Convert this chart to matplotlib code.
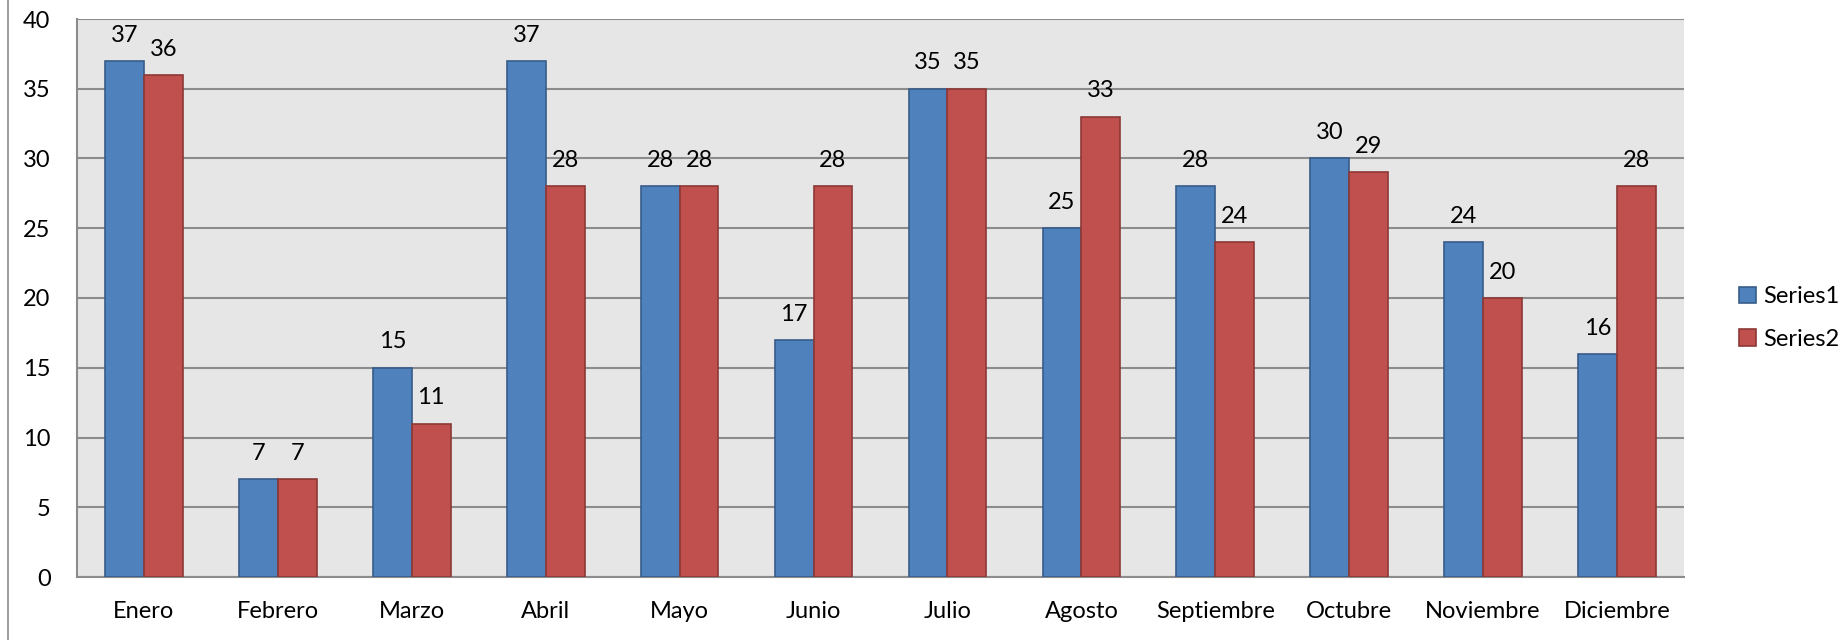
import numpy as np
import matplotlib
matplotlib.use("Agg")
import matplotlib.pyplot as plt

# Datos
meses = ["Enero", "Febrero", "Marzo", "Abril", "Mayo", "Junio", "Julio",
         "Agosto", "Septiembre", "Octubre", "Noviembre", "Diciembre"]
series1 = [37, 7, 15, 37, 28, 17, 35, 25, 28, 30, 24, 16]
series2 = [36, 7, 11, 28, 28, 28, 35, 33, 24, 29, 20, 28]

plt.rcParams["font.family"] = ["Lato", "DejaVu Sans"]

W, H, DPI = 1847, 640, 100
fig = plt.figure(figsize=(W / DPI, H / DPI), dpi=DPI, facecolor="white")
# área de trazado en píxeles: x 77..1684, y 19..577
ax = fig.add_axes([77 / W, 1 - 577 / H, (1684 - 77) / W, (577 - 19) / H])
ax.set_facecolor("#e6e6e6")

x = np.arange(len(meses))
w = 0.29
b1 = ax.bar(x - w / 2, series1, w, color="#4f81bd", edgecolor="#385d8a",
            linewidth=1.2, label="Series1", zorder=3)
b2 = ax.bar(x + w / 2, series2, w, color="#c0504d", edgecolor="#8c3836",
            linewidth=1.2, label="Series2", zorder=3)

for bars in (b1, b2):
    for r in bars:
        ax.annotate(f"{int(r.get_height())}",
                    (r.get_x() + r.get_width() / 2, r.get_height()),
                    xytext=(0, 11), textcoords="offset points",
                    ha="center", va="bottom", fontsize=17, zorder=4)

ax.set_xlim(-0.5, len(meses) - 0.5)
ax.set_ylim(0, 40)
ax.set_yticks(range(0, 41, 5))
ax.set_xticks(x)
ax.set_xticklabels(meses)
ax.tick_params(axis="both", length=0, labelsize=17)
ax.tick_params(axis="y", pad=19)
ax.tick_params(axis="x", pad=17)
ax.grid(axis="y", color="#8c8c8c", linewidth=1.5, zorder=1)
ax.set_axisbelow(True)
for s in ("left", "bottom"):
    ax.spines[s].set_color("#8c8c8c")
    ax.spines[s].set_linewidth(1.5)
ax.spines["right"].set_visible(False)
ax.spines["top"].set_visible(False)

# borde izquierdo del marco del gráfico
fig.add_artist(plt.Line2D([8 / W, 8 / W], [0, 1], transform=fig.transFigure,
                          color="#8c8c8c", linewidth=1.2))

leg = fig.legend(handles=[b1, b2], loc="center left",
                 bbox_to_anchor=(1718 / W, 1 - 318 / H), frameon=False,
                 fontsize=17, handlelength=0.7, handleheight=0.7,
                 handletextpad=0.3, labelspacing=0.9)

fig.savefig("out.png", dpi=DPI, facecolor="white")
